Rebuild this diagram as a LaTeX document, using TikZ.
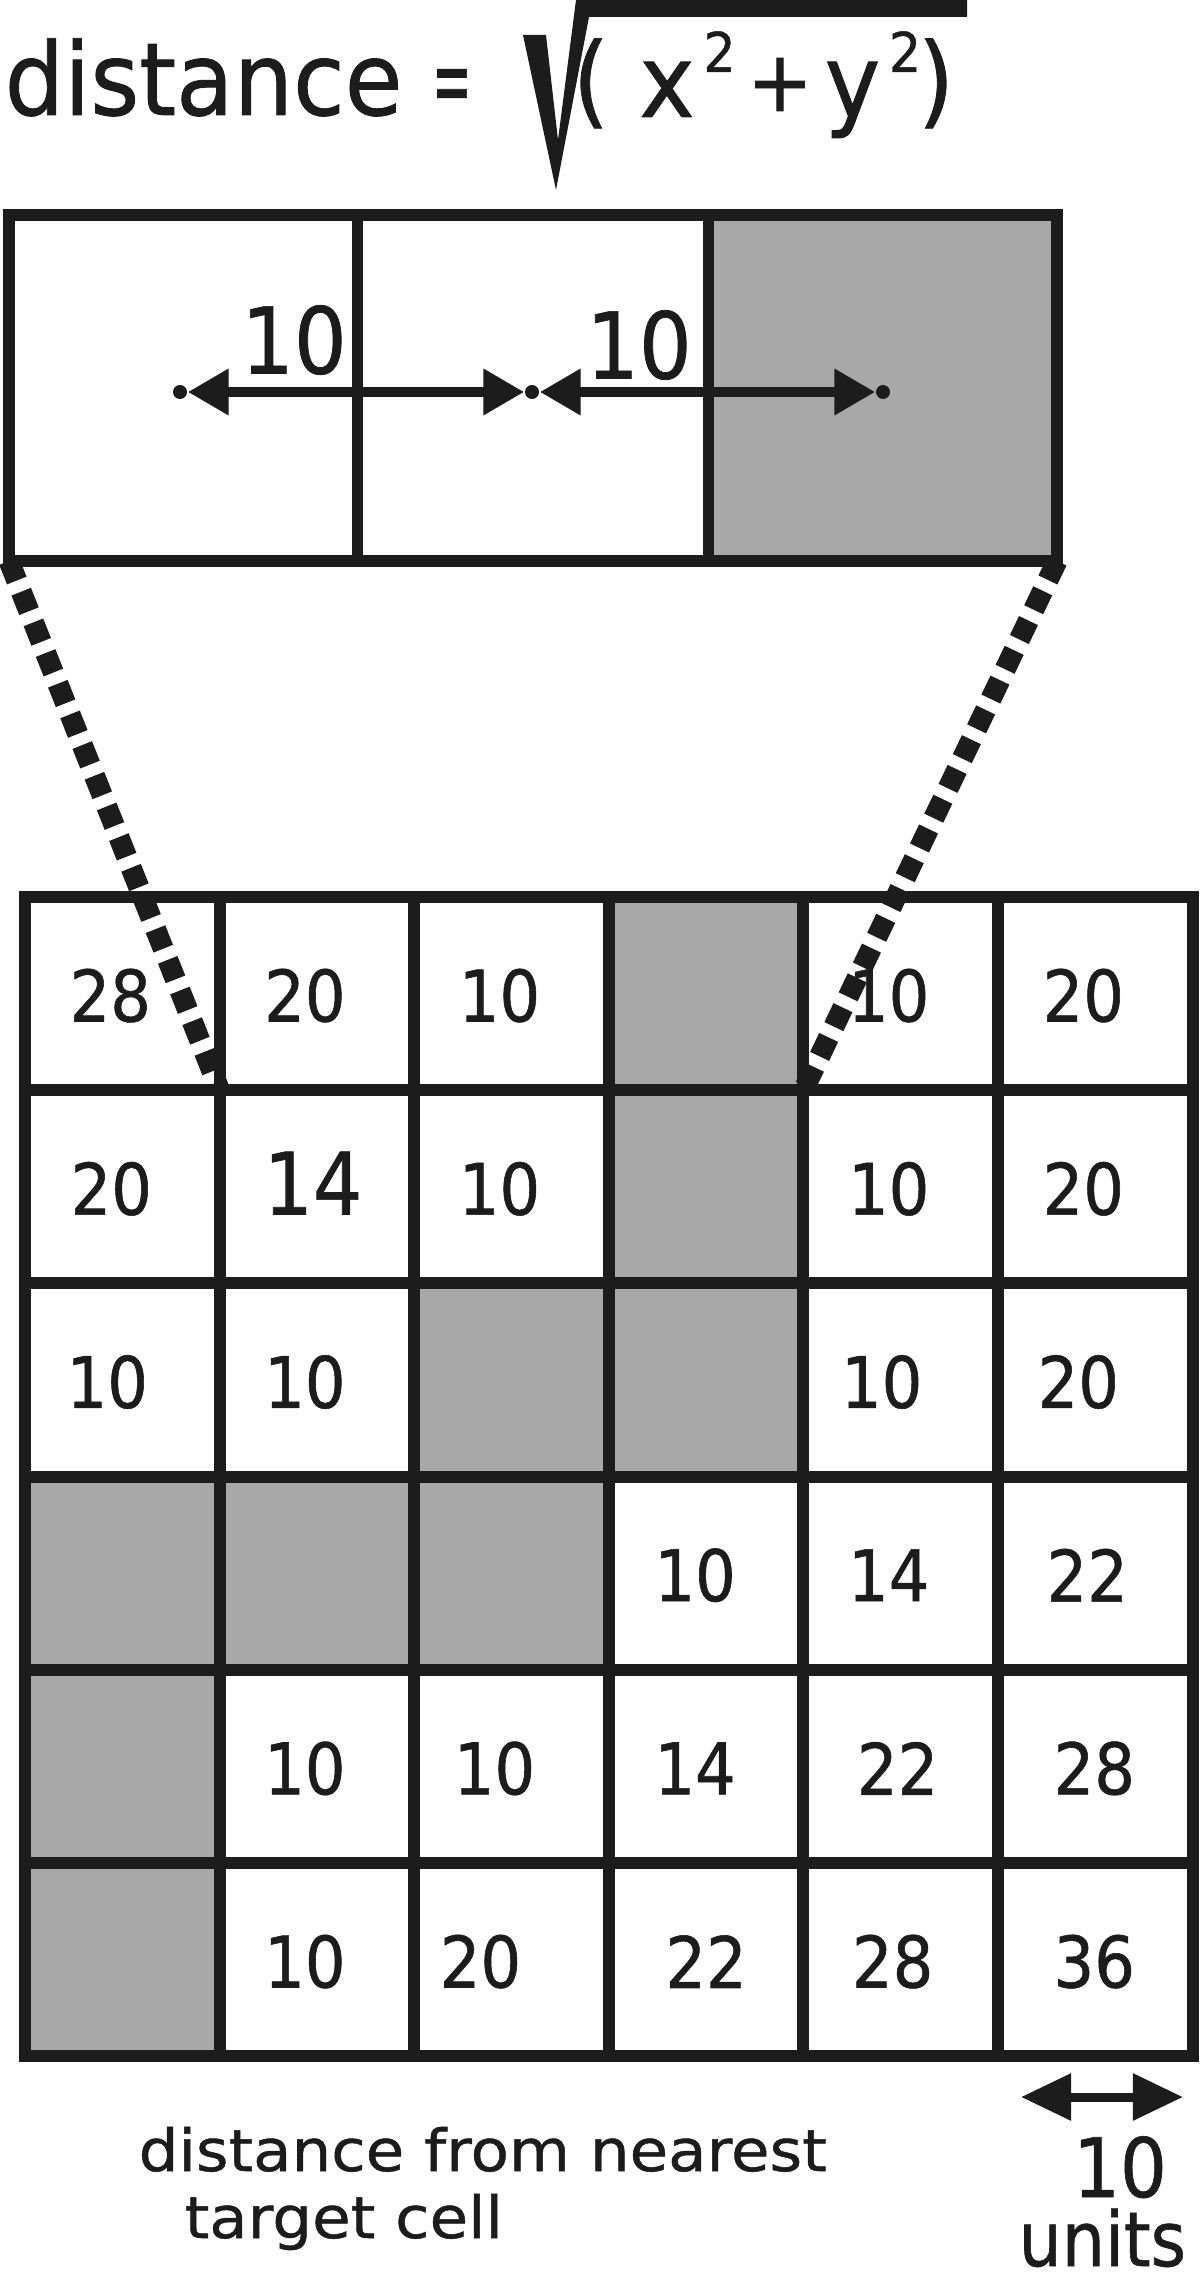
\documentclass[tikz,border=0pt]{standalone}
\usepackage{fontspec}
\setmainfont{DejaVu Sans}
\newfontfamily\numfont[FakeStretch=0.9, FakeBold=0.8]{DejaVu Sans}
\newfontfamily\titlefont[FakeStretch=0.93, FakeBold=0.8]{DejaVu Sans}
\newfontfamily\notefont[FakeStretch=1.08, FakeBold=0.8]{DejaVu Sans}
\usetikzlibrary{arrows.meta}
\definecolor{cellgray}{RGB}{168,168,168}
\definecolor{ink}{RGB}{28,28,28}
\newcommand\fs[1]{\fontsize{#1}{#1}\selectfont}

\begin{document}
\begin{tikzpicture}[x=0.01cm, y=-0.01cm,
  num/.style={inner sep=0pt, text=ink, font=\numfont\fs{20.2pt}},
  ttl/.style={inner sep=0pt, anchor=base, text=ink, font=\titlefont\fs{28.7pt}},
  sup/.style={ttl, font=\titlefont\fs{15.6pt}},
  note/.style={inner sep=0pt, anchor=base west, text=ink, font=\notefont\fs{16.5pt}},
  dot/.style={circle, fill=ink, inner sep=0pt, minimum size=0.14cm},
  dimline/.style={ink, line width=0.1cm, {Triangle[length=0.41cm, width=0.44cm]}-{Triangle[length=0.41cm, width=0.44cm]}}]
\useasboundingbox (0,0) rectangle (1204,2279);
\clip (0,0) rectangle (1204,2279);

% formula
\node[ttl, anchor=base west] (lhs) at (4,115) {distance \scalebox{0.5}[1]{=}};
\fill[ink] (523,35) -- (546,35) -- (558,140) -- (576,0) -- (967,0) -- (967,17) -- (589,17) -- (556,190) -- cycle;
\node[ttl] (lpar) at (591,115) {(};
\node[ttl] (xv) at (667,117) {x};
\node[sup] (xsq) at (719.5,72) {2};
\node[ttl, font=\titlefont\fs{24pt}] (plus) at (780,111) {+};
\node[ttl] (yv) at (852.5,117) {y};
\node[sup] (ysq) at (905,72) {2};
\node[ttl] (rpar) at (936,115) {)};

% zoomed strip
\fill[cellgray] (708.5,215) rectangle (1057,561);
\draw[ink, line width=0.115cm] (9,215) rectangle (1057,561);
\draw[ink, line width=0.11cm] (357.5,215) -- (357.5,561) (708.5,215) -- (708.5,561);
\node[dot] (d1) at (180,392) {};
\node[dot] (d2) at (532,392) {};
\node[dot] (d3) at (883,392) {};
\draw[dimline] (d1) -- (d2);
\draw[dimline] (d2) -- (d3);
\node[num, font=\numfont\fs{26.2pt}] (t1) at (294,340) {10};
\node[num, font=\numfont\fs{26.2pt}] (t2) at (639,345) {10};

% grid
\foreach \c/\r in {4/1, 4/2, 3/3, 4/3, 1/4, 2/4, 3/4, 1/5, 1/6}
  \fill[cellgray] ({25+(\c-1)*194.6},{897+(\r-1)*193.2}) rectangle ++(194.6,193.2);
\foreach \i in {0,...,6} {
  \draw[ink, line width=0.12cm, line cap=rect] ({25+\i*194.6},897) -- ({25+\i*194.6},2056.2);
  \draw[ink, line width=0.12cm, line cap=rect] (25,{897+\i*193.2}) -- (1192.6,{897+\i*193.2});
}
\foreach \c/\r/\v/\dx in {1/1/28/-12, 2/1/20/-12, 3/1/10/-12, 5/1/10/-12, 6/1/20/-12,
    1/2/20/-11, 3/2/10/-12, 5/2/10/-12, 6/2/20/-12,
    1/3/10/-15, 2/3/10/-12, 5/3/10/-19, 6/3/20/-17,
    4/4/10/-11, 5/4/14/-12, 6/4/22/-8,
    2/5/10/-12, 3/5/10/-17, 4/5/14/-11, 5/5/22/-3, 6/5/28/-1,
    2/6/10/-12, 3/6/20/-31, 4/6/22/0, 5/6/28/-8, 6/6/36/-1}
  \node[num] (n-\c-\r) at ({25+(\c-0.5)*194.6+(\dx)}, {897+(\r-0.5)*193.2+2}) {\v};
\node[num, font=\numfont\fs{24.5pt}] (n-2-2) at (313,1183) {14};

% zoom lines
\coordinate (boxbl) at (9,561);
\coordinate (boxbr) at (1057,561);
\coordinate (gridl) at (219.6,1090.2);
\coordinate (gridr) at (803.4,1090.2);
\draw[ink, line width=0.21cm, dash pattern=on 0.21cm off 0.12cm] (boxbl) -- (gridl);
\draw[ink, line width=0.21cm, dash pattern=on 0.21cm off 0.12cm] (boxbr) -- (gridr);

% captions
\node[note] (cap1) at (138,2171) {distance from nearest};
\node[note] (cap2) at (184,2238) {target cell};
\coordinate (sa) at (1021,2097);
\coordinate (sb) at (1183,2097);
\draw[ink, line width=0.09cm, {Triangle[length=0.5cm, width=0.45cm]}-{Triangle[length=0.5cm, width=0.45cm]}] (sa) -- (sb);
\node[num, anchor=base, font=\numfont\fs{23.3pt}] (ten) at (1120,2197) {10};
\node[num, anchor=base west, font=\numfont\fs{21.5pt}] (units) at (1018,2266) {units};
\end{tikzpicture}
\end{document}
